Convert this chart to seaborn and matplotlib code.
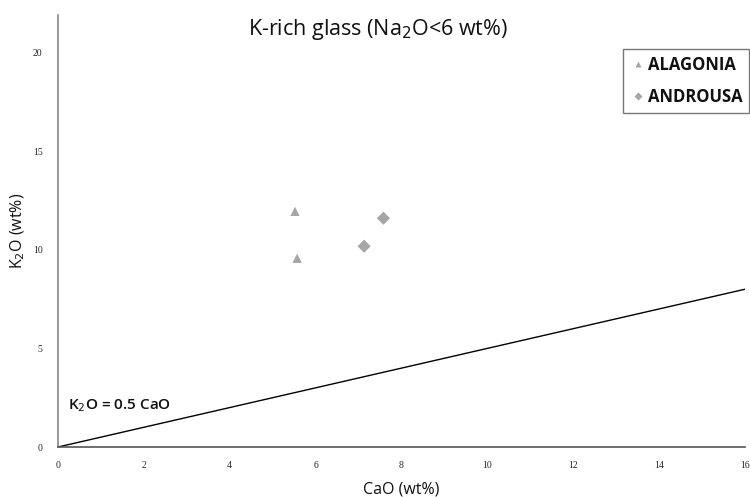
import matplotlib
matplotlib.use("Agg")
import matplotlib.pyplot as plt
import seaborn as sns
import pandas as pd

groups = ["ALAGONIA", "ALAGONIA", "ANDROUSA", "ANDROUSA"]
cao = [5.52, 5.57, 7.58, 7.13]
k2o = [11.95, 9.57, 11.6, 10.18]
line_x = [0, 16]
line_y = [0, 8]

df = pd.DataFrame({"CaO": cao, "K2O": k2o, "group": groups})

sns.set_style("white")
plt.rcParams['font.family'] = ['Open Sans', 'DejaVu Sans']

fig = plt.figure(figsize=(7.5, 4.97), dpi=100)
ax = fig.add_axes([0.0773, 0.1006, 0.916, 0.869])

sns.lineplot(x=line_x, y=line_y, ax=ax, color="black", linewidth=1.0)
sns.scatterplot(data=df, x="CaO", y="K2O", hue="group", style="group",
                markers={"ALAGONIA": "^", "ANDROUSA": "D"},
                palette={"ALAGONIA": "#a6a6a6", "ANDROUSA": "#a6a6a6"},
                s=45, edgecolor="none", ax=ax, legend=True)

ax.set_xlim(0, 16)
ax.set_ylim(0, 21.9)
ax.set_xticks(range(0, 17, 2))
ax.set_yticks([0, 5, 10, 15, 20])
ax.tick_params(axis="both", labelsize=7, length=0)
ax.tick_params(axis="x", pad=10)
ax.tick_params(axis="y", pad=11)
for lab in ax.get_xticklabels() + ax.get_yticklabels():
    lab.set_fontfamily("Liberation Serif")
for s in ["top", "right"]:
    ax.spines[s].set_visible(False)
ax.spines["left"].set_color("#888888")
ax.spines["bottom"].set_color("#555555")
ax.spines["left"].set_linewidth(1.2)
ax.spines["bottom"].set_linewidth(1.2)

ax.set_xlabel("CaO (wt%)", fontsize=11.5, labelpad=8, color="#111111")
ax.set_ylabel("K$_2$O (wt%)", fontsize=11.5, labelpad=4, color="#111111")
fig.text(378/750, 1 - 29/497, "K-rich glass (Na$_2$O<6 wt%)", fontsize=15.5,
         ha="center", va="center", color="#111111")

ax.text(0.23, 2.1, "K$_2$O = 0.5 CaO", fontsize=11, va="center", ha="left",
        fontweight="semibold", color="#111111")

handles, labels = ax.get_legend_handles_labels()
leg = ax.legend(handles=handles, labels=labels, loc="upper left",
                bbox_to_anchor=(623/750, 1 - 49/497), bbox_transform=fig.transFigure,
                frameon=True, fancybox=False, handletextpad=0.1, handlelength=1.0,
                borderpad=0.4, labelspacing=0.85, prop={"size": 12, "weight": "bold"},
                markerscale=0.6, borderaxespad=0)
leg.get_frame().set_edgecolor("#555555")
leg.get_frame().set_linewidth(1.0)
for t in leg.get_texts():
    t.set_color("#111111")

fig.savefig("out.png", dpi=100)
